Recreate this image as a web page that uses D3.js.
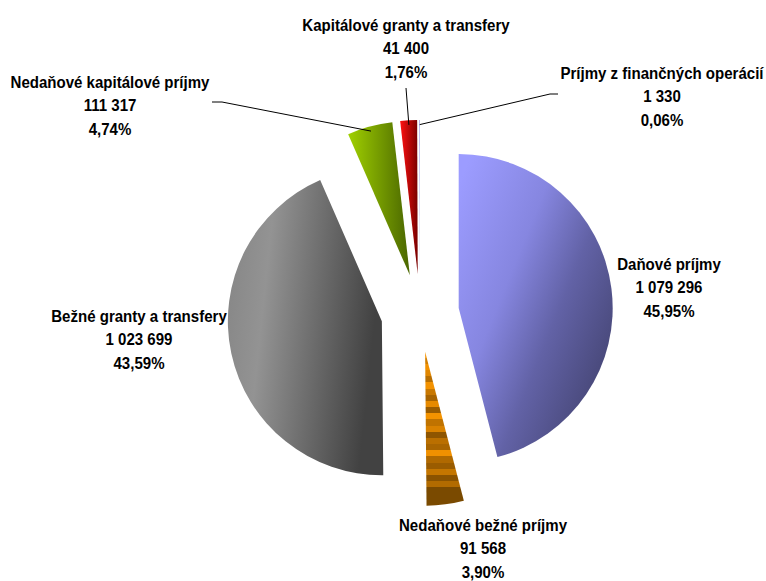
<!DOCTYPE html>
<html>
<head>
  <meta charset="utf-8">
  <title>Príjmy</title>
  <script src="https://d3js.org/d3.v7.min.js"></script>
  <style>
    body { margin: 0; background: #fff; }
    text { font-family: "Liberation Sans Narrow", "Arial Narrow", "Liberation Sans", Arial, sans-serif; font-weight: bold; font-size: 17px; fill: #000; }
  </style>
</head>
<body>
<script>
const names = [
  'Daňové príjmy',
  'Nedaňové bežné príjmy',
  'Bežné granty a transfery',
  'Nedaňové kapitálové príjmy',
  'Kapitálové granty a transfery',
  'Príjmy z finančných operácií'
];
const values = [1079296, 91568, 1023699, 111317, 41400, 1330];

// label anchor (center x, first baseline y) and leader line start, per slice
const labelPos = [
  [669, 270, null],
  [483, 531, null],
  [139, 322, null],
  [110, 88, [212, 102, 222, 102]],
  [406, 31, [406, 88, 406, 88]],
  [662, 79, [558, 94, 550, 94]]
];

const width = 766, height = 581;
const cx = 420, cy = 313, radius = 154, explode = 39;
const squeeze = 0.885; // no narrow font installed: compress glyphs horizontally

const locale = d3.formatLocale({ decimal: ',', thousands: ' ', grouping: [3] });
const fmtNum = locale.format(',d');
const fmtPct = locale.format('.2f');
const total = d3.sum(values);

const svg = d3.select('body').append('svg')
  .attr('width', width)
  .attr('height', height);

const defs = svg.append('defs');

function linGrad(id, x1, y1, x2, y2, stops) {
  const g = defs.append('linearGradient').attr('id', id)
    .attr('x1', x1).attr('y1', y1).attr('x2', x2).attr('y2', y2);
  stops.forEach(s => g.append('stop').attr('offset', s[0]).attr('stop-color', s[1]));
}
linGrad('g0', 0, 0.1, 1, 0.9, [[0, '#9c9cff'], [0.35, '#8686e0'], [0.6, '#6262a6'], [1, '#3d3d66']]);
linGrad('g2', 0, 0, 1, 0.2, [[0, '#848484'], [0.3, '#939393'], [1, '#424242']]);
linGrad('g3', 0, 0, 1, 0, [[0, '#a0d000'], [1, '#4a6600']]);
linGrad('g4', 0, 0, 1, 0, [[0, '#ff1010'], [1, '#780000']]);
linGrad('g5', 0, 0, 1, 0, [[0, '#9999ff'], [1, '#333366']]);

// banded orange fill
const og = defs.append('linearGradient').attr('id', 'g1')
  .attr('x1', 0).attr('y1', 0).attr('x2', 0).attr('y2', 1);
const bandCols = ['#f59300', '#d07d00', '#f29100', '#e08600', '#b86e00', '#f39200',
  '#c97800', '#a86400', '#e68a00', '#9a5c00', '#f49300', '#c07300', '#d98200', '#8e5500',
  '#ba6f00', '#a96500', '#f09000', '#b06900', '#9a5c00', '#c47600', '#8a5300', '#b26b00',
  '#7a4a00', '#7a4a00', '#7a4a00'];
bandCols.forEach((c, i) => {
  og.append('stop').attr('offset', i / bandCols.length).attr('stop-color', c);
  og.append('stop').attr('offset', (i + 1) / bandCols.length).attr('stop-color', c);
});

const fills = ['url(#g0)', 'url(#g1)', 'url(#g2)', 'url(#g3)', 'url(#g4)', 'url(#g5)'];

const pie = d3.pie().sort(null).value(d => d);
const arcs = pie(values);
const arc = d3.arc().innerRadius(0).outerRadius(radius);

const g = svg.append('g').attr('transform', `translate(${cx},${cy})`);

function offset(d) {
  const a = (d.startAngle + d.endAngle) / 2;
  return [explode * Math.sin(a), -explode * Math.cos(a)];
}

g.selectAll('path.slice')
  .data(arcs)
  .enter().append('path')
    .attr('class', 'slice')
    .attr('transform', d => `translate(${offset(d)})`)
    .attr('d', arc)
    .attr('fill', (d, i) => fills[i]);

// leader lines
arcs.forEach((d, i) => {
  const lp = labelPos[i][2];
  if (!lp) return;
  const a = (d.startAngle + d.endAngle) / 2;
  const o = offset(d);
  const r = radius * 0.97;
  const ex = cx + o[0] + r * Math.sin(a);
  const ey = cy + o[1] - r * Math.cos(a);
  svg.append('path')
    .attr('d', `M${lp[0]},${lp[1]}L${lp[2]},${lp[3]}L${ex},${ey}`)
    .attr('fill', 'none')
    .attr('stroke', '#000')
    .attr('stroke-width', 1);
});

// labels
names.forEach((n, i) => {
  const [x, y] = labelPos[i];
  const t = svg.append('g')
    .attr('transform', `translate(${x},${y}) scale(${squeeze},1)`)
    .append('text')
    .attr('text-anchor', 'middle');
  [n, fmtNum(values[i]), fmtPct(values[i] / total * 100) + '%'].forEach((s, k) => {
    t.append('tspan').attr('x', 0).attr('dy', k === 0 ? 0 : 23.5).text(s);
  });
});
</script>
</body>
</html>
